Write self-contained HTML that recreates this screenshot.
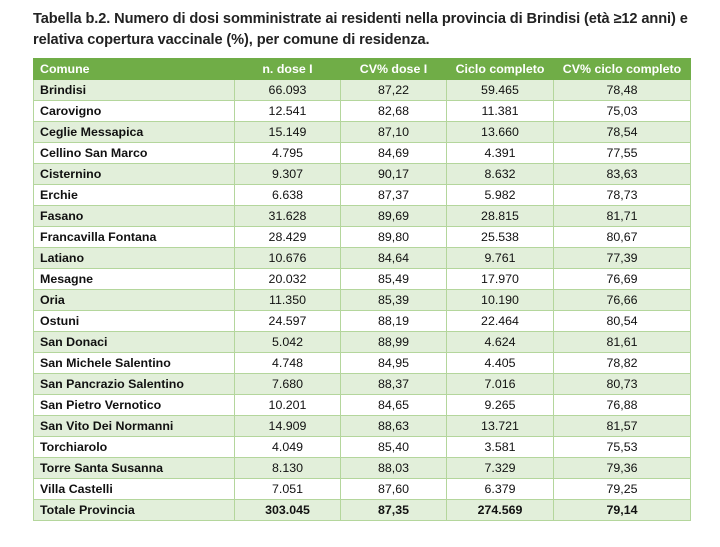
<!DOCTYPE html>
<html><head><meta charset="utf-8"><style>
body{margin:0;width:720px;height:547px;background:#fff;font-family:"Liberation Sans",sans-serif;overflow:hidden;position:relative}
#title{position:absolute;left:33px;top:9px;font-size:14.6px;font-weight:bold;color:#222;line-height:21px;letter-spacing:-0.1px}
table{position:absolute;left:33px;top:58px;border-collapse:collapse;font-size:12.4px;color:#111}
td,th{height:20px;padding:0 6px;border:1px solid #b4d69c;text-align:center;white-space:nowrap}
th{background:#70ad47;color:#fff;font-weight:bold;border-color:#70ad47}
td:first-child,th:first-child{text-align:left;font-weight:bold}
tr:nth-child(even) td{background:#e2efda}
tr.tot td{font-weight:bold}
</style></head><body>
<div id="title">Tabella b.2. Numero di dosi somministrate ai residenti nella provincia di Brindisi (età ≥12 anni) e<br>relativa copertura vaccinale (%), per comune di residenza.</div>
<table>
<colgroup><col style="width:201px"><col style="width:106px"><col style="width:106px"><col style="width:107px"><col style="width:137px"></colgroup>
<tr><th>Comune</th><th>n. dose I</th><th>CV% dose I</th><th>Ciclo completo</th><th>CV% ciclo completo</th></tr>
<tr><td>Brindisi</td><td>66.093</td><td>87,22</td><td>59.465</td><td>78,48</td></tr>
<tr><td>Carovigno</td><td>12.541</td><td>82,68</td><td>11.381</td><td>75,03</td></tr>
<tr><td>Ceglie Messapica</td><td>15.149</td><td>87,10</td><td>13.660</td><td>78,54</td></tr>
<tr><td>Cellino San Marco</td><td>4.795</td><td>84,69</td><td>4.391</td><td>77,55</td></tr>
<tr><td>Cisternino</td><td>9.307</td><td>90,17</td><td>8.632</td><td>83,63</td></tr>
<tr><td>Erchie</td><td>6.638</td><td>87,37</td><td>5.982</td><td>78,73</td></tr>
<tr><td>Fasano</td><td>31.628</td><td>89,69</td><td>28.815</td><td>81,71</td></tr>
<tr><td>Francavilla Fontana</td><td>28.429</td><td>89,80</td><td>25.538</td><td>80,67</td></tr>
<tr><td>Latiano</td><td>10.676</td><td>84,64</td><td>9.761</td><td>77,39</td></tr>
<tr><td>Mesagne</td><td>20.032</td><td>85,49</td><td>17.970</td><td>76,69</td></tr>
<tr><td>Oria</td><td>11.350</td><td>85,39</td><td>10.190</td><td>76,66</td></tr>
<tr><td>Ostuni</td><td>24.597</td><td>88,19</td><td>22.464</td><td>80,54</td></tr>
<tr><td>San Donaci</td><td>5.042</td><td>88,99</td><td>4.624</td><td>81,61</td></tr>
<tr><td>San Michele Salentino</td><td>4.748</td><td>84,95</td><td>4.405</td><td>78,82</td></tr>
<tr><td>San Pancrazio Salentino</td><td>7.680</td><td>88,37</td><td>7.016</td><td>80,73</td></tr>
<tr><td>San Pietro Vernotico</td><td>10.201</td><td>84,65</td><td>9.265</td><td>76,88</td></tr>
<tr><td>San Vito Dei Normanni</td><td>14.909</td><td>88,63</td><td>13.721</td><td>81,57</td></tr>
<tr><td>Torchiarolo</td><td>4.049</td><td>85,40</td><td>3.581</td><td>75,53</td></tr>
<tr><td>Torre Santa Susanna</td><td>8.130</td><td>88,03</td><td>7.329</td><td>79,36</td></tr>
<tr><td>Villa Castelli</td><td>7.051</td><td>87,60</td><td>6.379</td><td>79,25</td></tr>
<tr class="tot"><td>Totale Provincia</td><td>303.045</td><td>87,35</td><td>274.569</td><td>79,14</td></tr>
</table>
</body></html>
